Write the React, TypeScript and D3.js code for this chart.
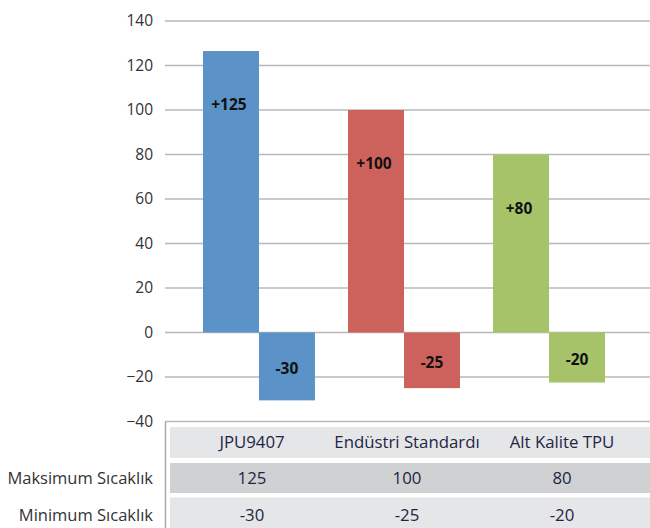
import React, { useEffect, useRef } from "react";
import * as d3 from "d3";

// Data
const categories = ["JPU9407", "Endüstri Standardı", "Alt Kalite TPU"];
const maxValues = [125, 100, 80];
const minValues = [-30, -25, -20];
// bar heights as drawn in the picture (slightly off from the table values)
const maxBarHeights = [126.5, 100, 80];
const minBarHeights = [-30.5, -25, -22.5];
const yTicks = [-40, -20, 0, 20, 40, 60, 80, 100, 120, 140];
const rowLabels = ["Maksimum Sıcaklık", "Minimum Sıcaklık"];
const barColors = ["#5b93c8", "#cd625c", "#a7c36a"];

const W = 650;
const H = 528;
const FONT = "'Open Sans', Lato, sans-serif";

const App: React.FC = () => {
  const svgRef = useRef<SVGSVGElement>(null);

  useEffect(() => {
    if (!svgRef.current) return;
    const svg = d3.select(svgRef.current);
    svg.selectAll("*").remove();

    const plotLeft = 165;
    const y = d3.scaleLinear().domain([-40, 140]).range([421.5, 21]);

    const x = d3.scaleBand<string>()
      .domain(categories)
      .range([plotLeft, 643])
      .paddingInner(0.228)
      .paddingOuter(0.262);

    const sub = d3.scaleBand<string>()
      .domain(["max", "min"])
      .range([0, x.bandwidth()])
      .padding(0);

    // Grid lines
    svg.append("g")
      .selectAll("line")
      .data(yTicks)
      .join("line")
      .attr("x1", plotLeft)
      .attr("x2", W)
      .attr("y1", d => y(d))
      .attr("y2", d => y(d))
      .attr("stroke", "#b8b8b8")
      .attr("stroke-width", 1.5);

    // Y tick labels
    svg.append("g")
      .selectAll("text")
      .data(yTicks)
      .join("text")
      .attr("x", 153)
      .attr("y", d => y(d))
      .attr("dy", "0.35em")
      .attr("text-anchor", "end")
      .attr("font-family", FONT)
      .attr("font-size", 15.5)
      .attr("fill", "#333")
      .text(d => (d < 0 ? `−${Math.abs(d)}` : `${d}`));

    // Bars
    const groups = svg.append("g")
      .selectAll("g")
      .data(categories)
      .join("g")
      .attr("transform", d => `translate(${x(d)},0)`);

    groups.append("rect")
      .attr("x", sub("max")!)
      .attr("width", sub.bandwidth())
      .attr("y", (_, i) => y(maxBarHeights[i]))
      .attr("height", (_, i) => y(0) - y(maxBarHeights[i]))
      .attr("fill", (_, i) => barColors[i]);

    groups.append("rect")
      .attr("x", sub("min")!)
      .attr("width", sub.bandwidth())
      .attr("y", y(0))
      .attr("height", (_, i) => y(minBarHeights[i]) - y(0))
      .attr("fill", (_, i) => barColors[i]);

    // Bar labels
    groups.append("text")
      .attr("x", sub("max")! + sub.bandwidth() / 2 - 2)
      .attr("y", (_, i) => y(maxBarHeights[i]) + 54)
      .attr("dy", "0.35em")
      .attr("text-anchor", "middle")
      .attr("font-family", FONT)
      .attr("font-weight", "bold")
      .attr("font-size", 15.5)
      .attr("fill", "#111")
      .text((_, i) => `+${maxValues[i]}`);

    groups.append("text")
      .attr("x", sub("min")! + sub.bandwidth() / 2)
      .attr("y", (_, i) => (y(0) + y(minBarHeights[i])) / 2 + 2)
      .attr("dy", "0.35em")
      .attr("text-anchor", "middle")
      .attr("font-family", FONT)
      .attr("font-weight", "bold")
      .attr("font-size", 15.5)
      .attr("fill", "#111")
      .text((_, i) => `-${Math.abs(minValues[i])}`);

    // Data table
    const tableTop = y(-40);
    const table = svg.append("g");
    table.append("line")
      .attr("x1", plotLeft + 0.5)
      .attr("x2", plotLeft + 0.5)
      .attr("y1", tableTop)
      .attr("y2", H)
      .attr("stroke", "#a8a8a8")
      .attr("stroke-width", 1.5);

    const rows = [
      { fill: "#e5e6e8", top: 427, h: 31, texts: categories },
      { fill: "#d0d1d3", top: 463, h: 30, texts: maxValues.map(String) },
      { fill: "#e5e6e8", top: 497.5, h: 35, texts: minValues.map(v => `-${Math.abs(v)}`) },
    ];

    const col = d3.scalePoint<string>()
      .domain(categories)
      .range([252, 562]);

    rows.forEach((r, ri) => {
      table.append("rect")
        .attr("x", 170)
        .attr("y", r.top)
        .attr("width", W - 170)
        .attr("height", r.h)
        .attr("fill", r.fill);
      const cy = ri === 2 ? 515 : r.top + r.h / 2;
      table.append("g")
        .selectAll("text")
        .data(r.texts)
        .join("text")
        .attr("x", (_, i) => col(categories[i])!)
        .attr("y", cy)
        .attr("dy", "0.35em")
        .attr("text-anchor", "middle")
        .attr("font-family", FONT)
        .attr("font-size", 16.8)
        .attr("fill", "#1d2547")
        .text(d => d);
    });

    svg.append("g")
      .selectAll("text")
      .data(rowLabels)
      .join("text")
      .attr("x", 153)
      .attr("y", (_, i) => (i === 0 ? 478 : 515))
      .attr("dy", "0.35em")
      .attr("text-anchor", "end")
      .attr("font-family", FONT)
      .attr("font-size", 16.5)
      .attr("fill", "#333")
      .text(d => d);
  }, []);

  return (
    <div style={{ position: "fixed", left: 0, top: 0, width: W, height: H, background: "white" }}>
      <svg ref={svgRef} width={W} height={H} style={{ display: "block" }} />
    </div>
  );
};

export default App;
